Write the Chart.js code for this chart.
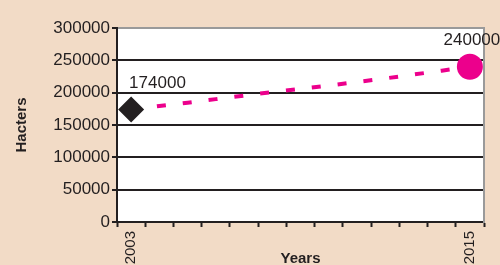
<!DOCTYPE html>
<html>
<head>
<meta charset="utf-8">
<script src="https://cdn.jsdelivr.net/npm/chart.js@4/dist/chart.umd.min.js"></script>
<style>
  html, body { margin: 0; padding: 0; background: #f2dbc6; overflow: hidden; }
  #idCanv_hacters { display: block; }
</style>
</head>
<body>
<canvas id="idCanv_hacters" width="500" height="285"></canvas>
<script>
const years = ["2003", "2004", "2005", "2006", "2007", "2008", "2009", "2010", "2011", "2012", "2013", "2014", "2015"];
const hacters = [174000, 179500, 184500, 190000, 195500, 201000, 206000, 211000, 216500, 222000, 228000, 234000, 240000];
const shownYears = ["2003", "2015"];
const labelledYears = ["2003", "2015"];

const textColor = "#231f20";
const lineColor = "#ec008c";
const fontFamily = "'Liberation Sans', Arial, sans-serif";

// markers only at the ends
const pointRadius = years.map((y, i) => (i === 0 ? 13 : i === years.length - 1 ? 13 : 0));
const pointStyle = years.map((y, i) => (i === 0 ? "rectRot" : "circle"));
const pointColor = years.map((y, i) => (i === 0 ? textColor : lineColor));

const plotBackground = {
  id: "plotBackground",
  beforeDraw(chart) {
    const { ctx, chartArea } = chart;
    ctx.save();
    ctx.fillStyle = "#ffffff";
    ctx.fillRect(chartArea.left, chartArea.top, chartArea.right - chartArea.left, chartArea.bottom - chartArea.top);
    ctx.restore();
  },
};

const valueLabels = {
  id: "valueLabels",
  afterDatasetsDraw(chart) {
    const { ctx } = chart;
    const meta = chart.getDatasetMeta(0);
    ctx.save();
    ctx.font = `17px ${fontFamily}`;
    ctx.fillStyle = textColor;
    ctx.textBaseline = "middle";
    meta.data.forEach((pt, i) => {
      if (!labelledYears.includes(years[i])) return;
      const first = i === 0;
      ctx.textAlign = first ? "left" : "center";
      ctx.fillText(String(hacters[i]), first ? pt.x - 2 : pt.x + 2, pt.y - 26);
    });
    ctx.restore();
  },
};

const hactersChart = {
  config: {
    type: "line",
    data: {
      labels: years,
      datasets: [
        {
          data: hacters,
          borderColor: lineColor,
          borderWidth: 4,
          borderDash: [9, 17],
          borderCapStyle: "butt",
          tension: 0,
          fill: false,
          pointRadius: pointRadius,
          pointHoverRadius: pointRadius,
          pointStyle: pointStyle,
          pointBackgroundColor: pointColor,
          pointBorderWidth: 0,
        },
      ],
    },
    options: {
      responsive: false,
      animation: false,
      layout: { padding: { left: 0, top: 28, right: 16, bottom: 0 } },
      plugins: {
        legend: { display: false },
        tooltip: { enabled: false },
      },
      scales: {
        x: {
          offset: true,
          afterFit: (scale) => {
            scale.height = 285 - 222;
          },
          grid: { display: true, offset: true, drawOnChartArea: false, tickLength: 5, tickWidth: 2, tickColor: textColor },
          border: { color: textColor, width: 2 },
          ticks: {
            autoSkip: false,
            minRotation: 90,
            maxRotation: 90,
            padding: 4,
            color: textColor,
            font: { family: fontFamily, size: 15 },
            callback: (v, i) => (shownYears.includes(years[i]) ? years[i] : ""),
          },
          title: {
            display: true,
            text: "Years",
            color: textColor,
            font: { family: fontFamily, size: 15, weight: "bold" },
            padding: { top: 0, bottom: 17 },
          },
        },
        y: {
          min: 0,
          max: 300000,
          afterFit: (scale) => {
            scale.width = 117;
          },
          grid: {
            color: (c) => (c.tick && c.tick.value === 300000 ? "#9a9a9a" : textColor),
            lineWidth: 2,
            tickLength: 5,
            tickColor: textColor,
          },
          border: { color: textColor, width: 2 },
          ticks: {
            stepSize: 50000,
            padding: 2,
            color: textColor,
            font: { family: fontFamily, size: 17 },
            callback: (v) => String(v),
          },
          title: {
            display: true,
            text: "Hacters",
            color: textColor,
            font: { family: fontFamily, size: 15, weight: "bold" },
            padding: { top: 13, bottom: 0 },
          },
        },
        y2: {
          position: "right",
          min: 0,
          max: 300000,
          afterFit: (scale) => {
            scale.width = 0;
          },
          grid: { display: false },
          border: { color: "#9a9a9a", width: 2 },
          ticks: { display: false },
        },
      },
    },
    plugins: [plotBackground, valueLabels],
  },
  canvas: null,
};

hactersChart.canvas = new Chart(document.getElementById("idCanv_hacters"), hactersChart.config);
</script>
</body>
</html>
